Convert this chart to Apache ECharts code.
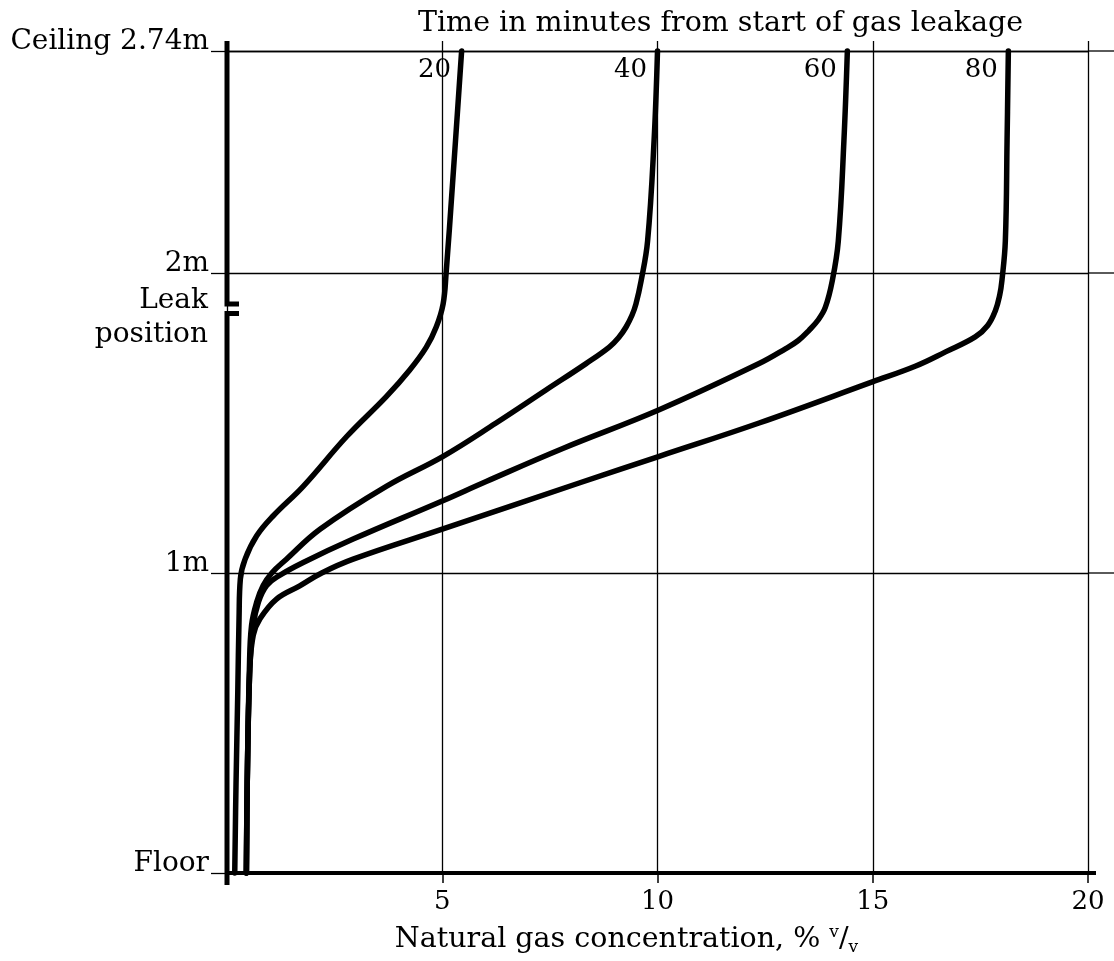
<!DOCTYPE html>
<html><head><meta charset="utf-8">
<script src="https://cdn.jsdelivr.net/npm/echarts@6/dist/echarts.min.js"></script>
<style>html,body{margin:0;padding:0;background:#fff}#c{width:1114px;height:961px}</style>
</head><body><div id="c"></div>
<script>
// Concentration (% v/v) vs height (m), ordered floor -> ceiling
const curve20 = [[0.18,0],[0.21,0.3],[0.25,0.6],[0.28,0.85],[0.31,0.98],[0.42,1.046],[0.69,1.124],[1.07,1.19],[1.77,1.289],[2.78,1.455],[3.70,1.588],[4.24,1.676],[4.63,1.753],[4.86,1.82],[5.02,1.897],[5.09,2.0],[5.24,2.3],[5.45,2.74]];
const curve40 = [[0.45,0],[0.47,0.3],[0.52,0.68],[0.57,0.825],[0.69,0.903],[0.84,0.958],[1.04,1.0],[1.38,1.046],[2.16,1.146],[3.70,1.289],[5.02,1.389],[6.25,1.50],[7.41,1.61],[8.34,1.698],[8.88,1.753],[9.10,1.785],[9.27,1.82],[9.41,1.86],[9.50,1.897],[9.62,1.974],[9.77,2.107],[9.92,2.44],[10.0,2.74]];
const curve60 = [[0.45,0],[0.47,0.3],[0.53,0.68],[0.61,0.825],[0.73,0.903],[0.92,0.958],[1.2,0.99],[1.77,1.035],[2.93,1.113],[5.0,1.24],[6.02,1.305],[7.80,1.415],[10.04,1.544],[12.36,1.698],[12.98,1.748],[13.27,1.775],[13.52,1.809],[13.74,1.845],[13.90,1.886],[14.06,1.974],[14.2,2.107],[14.33,2.44],[14.41,2.74]];
const curve80 = [[0.45,0],[0.47,0.3],[0.53,0.68],[0.61,0.793],[0.77,0.848],[1.15,0.913],[1.69,0.957],[2.2,1.0],[2.93,1.046],[5.0,1.146],[8.18,1.30],[10.04,1.389],[12.36,1.50],[14.99,1.637],[16.0,1.69],[16.69,1.737],[17.38,1.787],[17.67,1.825],[17.85,1.875],[17.95,1.927],[18.0,1.974],[18.08,2.107],[18.12,2.44],[18.15,2.74]];
const timeLabels = ['20','40','60','80'];
const xMin = 0, xMax = 20, xInterval = 5;
const yMin = 0, ceiling = 2.74, yInterval = 1;
const yLabelNames = ['Floor','1m','2m'];
const ceilingLabel = 'Ceiling 2.74m';
const leakBreak = [1.865, 1.897];
const leakLabel = 'Leak\nposition';
const titleText = 'Time in minutes from start of gas leakage';
const xName = 'Natural gas concentration, % {sup|v}/{sub|v}';

const FONT = "'DejaVu Serif', serif";
const curves = [curve20, curve40, curve60, curve80];
const chart = echarts.init(document.getElementById('c'), null, {renderer:'canvas'});

const option = {
  backgroundColor: '#fff',
  animation: false,
  title: {
    text: titleText, left: 413, top: 4,
    textStyle: {fontFamily: FONT, fontSize: 28.5, fontWeight: 'normal', color: '#000'}
  },
  grid: {left: 227, right: 26, top: 51, bottom: 85},
  xAxis: [{
    type: 'value', min: xMin, max: xMax, interval: xInterval, position: 'bottom',
    axisLine: {show: true, lineStyle: {color: '#000', width: 4}},
    axisTick: {show: true, length: 10, lineStyle: {color: '#000', width: 1.5}},
    axisLabel: {
      margin: 16, color: '#000', fontFamily: FONT, fontSize: 26,
      formatter: v => (v === 0 ? '' : String(v))
    },
    splitLine: {show: true, lineStyle: {color: '#000', width: 1.3}},
    name: xName, nameLocation: 'middle', nameGap: 51,
    nameTextStyle: {
      color: '#000', fontFamily: FONT, fontSize: 28.5, lineHeight: 32, padding: [0, 62, 0, 0],
      rich: {
        sup: {fontFamily: FONT, fontSize: 17, lineHeight: 18, verticalAlign: 'top', color: '#000'},
        sub: {fontFamily: FONT, fontSize: 17, lineHeight: 18, verticalAlign: 'bottom', color: '#000'}
      }
    }
  }, {
    type: 'value', min: xMin, max: xMax, interval: xInterval, position: 'top',
    axisLine: {show: true, lineStyle: {color: '#000', width: 1.3}},
    axisTick: {show: true, length: 10, lineStyle: {color: '#000', width: 1.3}},
    axisLabel: {show: false},
    splitLine: {show: false}
  }],
  yAxis: {
    type: 'value', min: yMin, max: ceiling, interval: yInterval,
    axisLine: {show: false},
    axisTick: {show: true, length: 16, lineStyle: {color: '#000', width: 1.3}},
    axisLabel: {
      margin: 18, color: '#000', fontFamily: FONT, fontSize: 28, lineHeight: 19,
      verticalAlign: 'bottom',
      formatter: v => (Math.abs(v - ceiling) < 1e-6 ? ceilingLabel : (yLabelNames[Math.round(v)] || ''))
    },
    splitLine: {show: true, lineStyle: {color: '#000', width: 1.3}}
  },
  series: curves.map(c => ({
    type: 'line', data: c, xAxisIndex: 0, yAxisIndex: 0,
    showSymbol: false, symbol: 'none', smooth: 0.4,
    lineStyle: {color: '#000', width: 5.5, cap: 'round', join: 'round'},
    clip: false, z: 5
  })).concat([{
    type: 'scatter', xAxisIndex: 0, yAxisIndex: 0, symbolSize: 1,
    itemStyle: {color: 'transparent', opacity: 1},
    data: curves.map((c, i) => ({value: c[c.length - 1], name: timeLabels[i]})),
    label: {
      show: true, position: 'left', distance: 10, offset: [0, 19], opacity: 1,
      formatter: p => p.name, color: '#000', fontFamily: FONT, fontSize: 26,
      textBorderWidth: 0
    },
    z: 6
  }])
};
chart.setOption(option);

const px = v => chart.convertToPixel({xAxisIndex: 0, yAxisIndex: 0}, v);
const W = chart.getWidth();
const pTop = px([0, leakBreak[1]]), pBot = px([0, leakBreak[0]]);
const pCeil = px([0, ceiling]), pFloor = px([0, 0]);
const x0 = pFloor[0];
const hook = 12, extTop = 10, extBot = 12;
const g = [
  {type: 'polyline', shape: {points: [[x0, pCeil[1] - extTop], [x0, pTop[1]], [x0 + hook, pTop[1]]]},
   style: {stroke: '#000', lineWidth: 5, fill: null, lineJoin: 'miter'}, z: 10},
  {type: 'polyline', shape: {points: [[x0 + hook, pBot[1]], [x0, pBot[1]], [x0, pFloor[1] + extBot]]},
   style: {stroke: '#000', lineWidth: 5, fill: null, lineJoin: 'miter'}, z: 10},
  {type: 'text', x: x0 - 19, y: (pTop[1] + pBot[1]) / 2 + 9,
   style: {text: leakLabel, fill: '#000', font: '28px ' + FONT, align: 'right', verticalAlign: 'middle', lineHeight: 34}, z: 10}
];
[1, 2, ceiling].forEach(h => {
  const p = px([xMax, h]);
  g.push({type: 'line', shape: {x1: p[0], y1: p[1], x2: W, y2: p[1]}, style: {stroke: '#000', lineWidth: 1.3}, z: 1});
});
const pf = px([xMax, 0]);
g.push({type: 'line', shape: {x1: pf[0], y1: pf[1], x2: pf[0] + 8, y2: pf[1]}, style: {stroke: '#000', lineWidth: 4}, z: 1});
chart.setOption({graphic: g});
</script></body></html>
